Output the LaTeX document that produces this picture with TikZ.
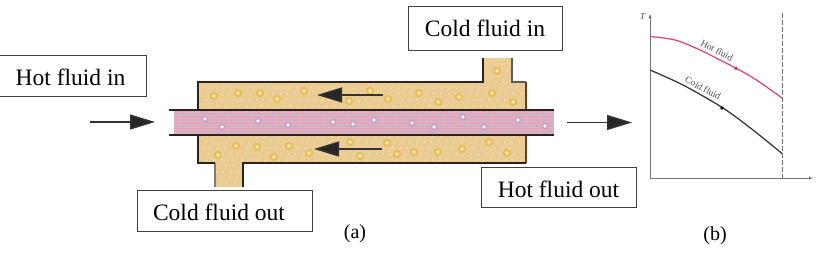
\documentclass[tikz,border=0pt]{standalone}
\usepackage{fontspec}
\setmainfont{Liberation Serif}
\usetikzlibrary{arrows.meta}
\definecolor{shellfill}{HTML}{EBCC94}
\definecolor{shellspeck}{HTML}{FAF0B4}
\definecolor{tubefill}{HTML}{D4B6C8}
\definecolor{tubeline}{HTML}{E2A4B8}
\definecolor{wall}{HTML}{2B241E}
\definecolor{hotcurve}{HTML}{DE4A7C}
\definecolor{coldcurve}{HTML}{3A3A3A}
\definecolor{bubblering}{HTML}{E6B654}
\definecolor{bubblemid}{HTML}{F2CE6C}
\definecolor{bubblecore}{HTML}{FFF7CC}
\definecolor{tubering}{HTML}{C6A2C2}
\tikzset{
  x=1pt,y=-1pt,
  labelbox/.style={draw=black!75,line width=0.9pt,fill=white,inner sep=0pt,
    font=\fontsize{23.5}{26}\selectfont,text height=20pt,text depth=0pt},
  flowarrow/.style={draw=black!80,line width=1.3pt,
    -{Triangle[length=25pt,width=15pt,fill=black!85]}},
  shellwall/.style={draw=wall,line width=1.5pt},
  tubewall/.style={draw=wall,line width=1.6pt},
  axisline/.style={draw=black!55,line width=0.9pt},
  plotnote/.style={font=\fontsize{9.5}{10}\selectfont,text=black!70,inner sep=0pt},
}
% Shell-side and tube-side bubble drawing
\newcommand{\shellbubble}[2]{%
  \fill[bubblering] (#1,#2) circle[radius=4];
  \fill[bubblemid] (#1,#2) circle[radius=2.8];
  \fill[bubblecore] (#1,#2) circle[radius=1.4];}
\newcommand{\tubebubble}[2]{%
  \fill[tubering] (#1,#2) circle[radius=3.4];
  \fill[white!85!tubefill] (#1,#2) circle[radius=1.9];}
\begin{document}
\begin{tikzpicture}
\useasboundingbox (0,0) rectangle (823,252);

% Shell body with its two nozzles
\fill[shellfill] (198,82) -- (483,82) -- (483,58) -- (512,58) -- (512,82) -- (526,82)
  -- (526,163) -- (243,163) -- (243,187) -- (215,187) -- (215,163) -- (198,163) -- cycle;
\begin{scope}
  \clip (198,82) -- (483,82) -- (483,58) -- (512,58) -- (512,82) -- (526,82)
    -- (526,163) -- (243,163) -- (243,187) -- (215,187) -- (215,163) -- (198,163) -- cycle;
  \foreach \i in {0,...,44}{
    \foreach \j in {0,...,21}{
      \fill[shellspeck] ({198+\i*7.3+mod(\j*5,7)},{58+\j*6}) circle[radius=0.7];
    }
  }
\end{scope}
\draw[shellwall] (198,110) -- (198,82) -- (483,82) -- (483,58);
\draw[shellwall,draw=wall!75] (512,58) -- (512,82) -- (526,82);
\draw[shellwall,draw=wall!70!orange] (526,82) -- (526,163);
\draw[shellwall] (526,163) -- (243,163) -- (243,187);
\draw[shellwall,draw=wall!60] (215,187) -- (215,163);
\draw[shellwall] (215,163) -- (198,163) -- (198,135);

% Tube with a fine woven pink texture
\fill[tubefill] (174,110) rectangle (554,135);
\begin{scope}
  \clip (174,110) rectangle (554,135);
  \foreach \yy in {111,114,...,135}{\draw[tubeline,line width=1.1pt] (174,\yy) -- (554,\yy);}
  \foreach \xx in {175,178,...,554}{\draw[tubefill,opacity=0.55,line width=0.9pt] (\xx,110) -- (\xx,135);}
\end{scope}
\draw[tubewall] (169,110) -- (554,110);
\draw[tubewall] (169,135) -- (554,135);

% Bubbles carried by the shell-side fluid
\foreach \px/\py in {214/96,238/93,260/93,277/99,304/91,349/101,370/91,388/99,
  419/93,438/102,459/97,492/93,513/102,497/71,
  218/155,236/146,257/147,274/157,289/146,309/153,350/142,360/156,387/143,397/154,
  414/152,438/152,462/149,489/142,507/153}{
  \shellbubble{\px}{\py}
}
% Bubbles carried by the tube-side fluid
\foreach \px/\py in {205/119,222/127,258/121,288/125,333/122,353/124,374/120,
  412/123,434/127,463/117,484/127,518/120,545/126}{
  \tubebubble{\px}{\py}
}

% Flow direction arrows
\coordinate (hotinStart) at (90,122);
\coordinate (hotinTip) at (155,122);
\coordinate (hotoutStart) at (567,122.5);
\coordinate (hotoutTip) at (632,122.5);
\coordinate (shellupStart) at (383,95);
\coordinate (shellupTip) at (317,95);
\coordinate (shelllowStart) at (382,149);
\coordinate (shelllowTip) at (314,149);
\draw[flowarrow] (hotinStart) -- (hotinTip);
\draw[flowarrow] (hotoutStart) -- (hotoutTip);
\draw[flowarrow] (shellupStart) -- (shellupTip);
\draw[flowarrow] (shelllowStart) -- (shelllowTip);

% Stream labels
\node[labelbox,minimum width=147.5pt,minimum height=41pt] (hotin) at (72.5,75.5) {\hspace*{-4pt}Hot fluid in};
\node[labelbox,minimum width=154pt,minimum height=44pt,text height=16pt] (coldin) at (485,28) {Cold fluid in};
\node[labelbox,minimum width=175pt,minimum height=41pt] (coldout) at (224.5,210.5) {\hspace*{-11pt}Cold fluid out};
\node[labelbox,minimum width=155pt,minimum height=40pt] (hotout) at (558.5,187) {Hot fluid out};
\node[font=\fontsize{20}{22}\selectfont,inner sep=0pt,anchor=base] (capa) at (355,238) {(a)};
\node[font=\fontsize{20}{22}\selectfont,inner sep=0pt,anchor=base] (capb) at (715,240) {(b)};

% Temperature profiles
\coordinate (origin) at (650,178);
\coordinate (ytop) at (650,14);
\coordinate (xend) at (813,178);
\coordinate (dashtop) at (782,13);
\coordinate (dashbot) at (782,178);
\draw[axisline,-{Latex[length=4pt,width=3.5pt,fill=black!70]}] (origin) -- (ytop);
\draw[axisline,-{Latex[length=4pt,width=3.5pt,fill=black!70]}] (origin) -- (xend);
\draw[axisline,dash pattern=on 5pt off 2pt] (dashtop) -- (dashbot);
\draw[hotcurve,line width=1.3pt] plot[smooth,tension=0.5] coordinates
  {(650,36.5) (675,40) (700,50) (736.5,68.5) (756.5,80) (782,98)};
\draw[coldcurve,line width=1.3pt] plot[smooth,tension=0.5] coordinates
  {(650,70) (683,85) (723,108) (753,130) (782,153.5)};
\fill[hotcurve!80!black] (736,68.3) circle[radius=1.8];
\fill[black] (722,108) circle[radius=1.8];
\node[plotnote,rotate=-27] (hotname) at (717,50.5) {Hot fluid};
\node[plotnote,rotate=-28] (coldname) at (703,88) {Cold fluid};
\node[plotnote,font=\fontsize{9}{10}\selectfont\itshape] (tname) at (642.5,16.5) {T};
\end{tikzpicture}
\end{document}
